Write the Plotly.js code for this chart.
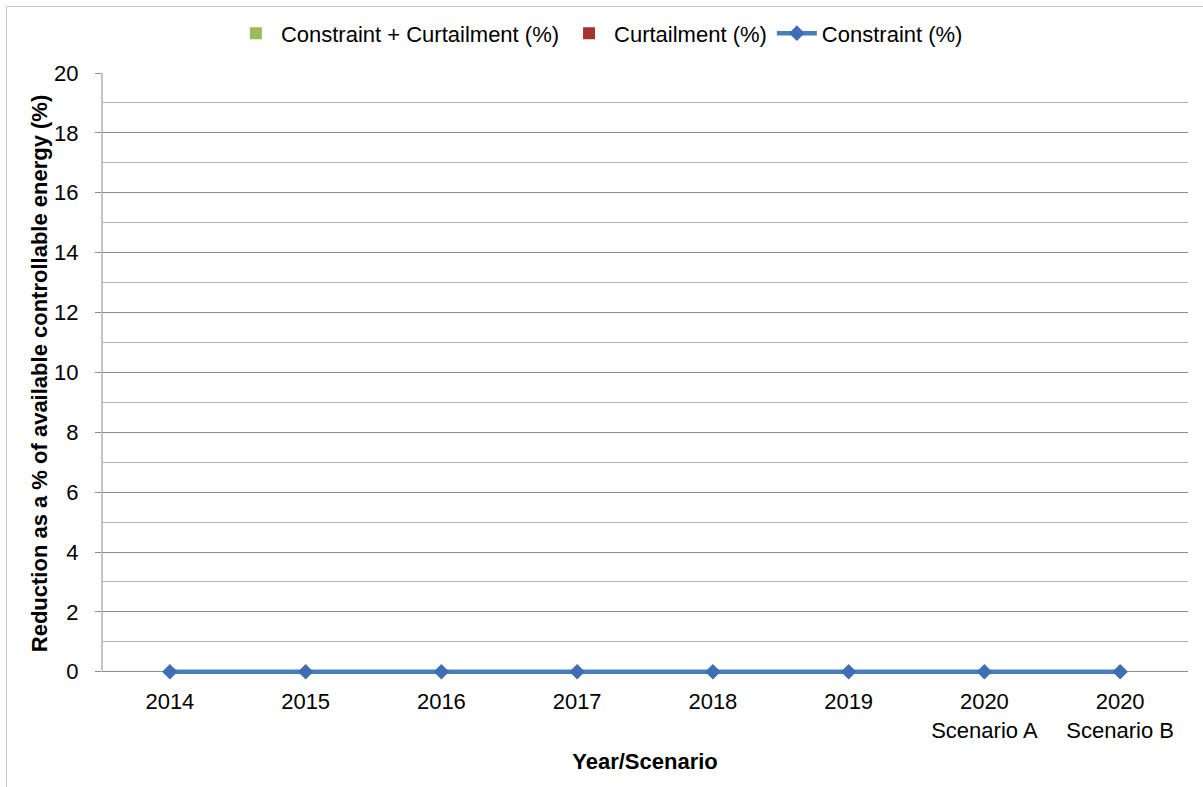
<!DOCTYPE html>
<html>
<head>
<meta charset="utf-8">
<script src="https://cdn.plot.ly/plotly-3.0.1.min.js"></script>
<style>
html,body{margin:0;padding:0;overflow:hidden;background:#fff;}
#frame{position:absolute;left:6px;top:6px;width:1220px;height:820px;border:1px solid #c8c8c8;pointer-events:none;}
#chart{position:absolute;left:0;top:0;width:1203px;height:787px;}
</style>
</head>
<body>
<div id="chart"></div>
<div id="frame"></div>
<script>
var categories = ["2014", "2015", "2016", "2017", "2018", "2019", "2020<br>Scenario A", "2020<br>Scenario B"];
var constraintPlusCurtailment = [0, 0, 0, 0, 0, 0, 0, 0];
var curtailment = [0, 0, 0, 0, 0, 0, 0, 0];
var constraint = [0, 0, 0, 0, 0, 0, 0, 0];
var yTickVals = [0, 2, 4, 6, 8, 10, 12, 14, 16, 18, 20];

var font = "Liberation Sans, Arial, sans-serif";
var fs = 22;

var traces = [
  {
    type: "bar", name: "Constraint + Curtailment (%)",
    x: categories, y: constraintPlusCurtailment,
    marker: {color: "#9BBB59", line: {color: "#4F6228", width: 0}}
  },
  {
    type: "bar", name: "Curtailment (%)",
    x: categories, y: curtailment,
    marker: {color: "#A33330", line: {color: "#632523", width: 0}}
  },
  {
    type: "scatter", mode: "lines+markers", name: "Constraint (%)",
    x: categories, y: constraint,
    line: {color: "#4A7EBB", width: 4.5},
    marker: {symbol: "diamond", size: 12, color: "#3E6EB4"},
    cliponaxis: false
  }
];

var layout = {
  width: 1203, height: 787,
  margin: {l: 102, r: 15, t: 73, b: 113},
  paper_bgcolor: "rgba(0,0,0,0)",
  plot_bgcolor: "#fff",
  font: {family: font, size: fs, color: "#000"},
  barmode: "group",
  showlegend: true,
  legend: {
    orientation: "h", x: 0.458, xanchor: "center", y: 1.066, yanchor: "middle",
    font: {family: font, size: fs, color: "#000"},
    itemwidth: 40, traceorder: "normal", tracegroupgap: 0
  },
  xaxis: {
    type: "category",
    showline: false, ticks: "", showgrid: false, zeroline: false,
    tickfont: {family: font, size: fs, color: "#000"},
    ticklabelstandoff: 12,
    title: {text: "<b>Year/Scenario</b>", font: {family: font, size: fs, color: "#000"}, standoff: 12}
  },
  yaxis: {
    range: [-0.075, 20], tickvals: yTickVals, ticktext: yTickVals.map(String),
    showline: false,
    ticks: "outside", ticklen: 6, tickcolor: "#8c8c8c",
    showgrid: true, gridcolor: "#8c8c8c", gridwidth: 1,
    zeroline: true, zerolinecolor: "#8c8c8c", zerolinewidth: 1,
    minor: {dtick: 1, showgrid: true, gridcolor: "#b4b4b4", gridwidth: 1, ticks: ""},
    tickfont: {family: font, size: fs, color: "#000"},
    ticklabelstandoff: 12,
    title: {text: "<b>Reduction as a % of available controllable energy (%)</b>", font: {family: font, size: fs, color: "#000"}, standoff: 0}
  },
  shapes: [
    {type: "line", xref: "paper", yref: "y", x0: 0, x1: 0, y0: 0, y1: 20,
     line: {color: "#8c8c8c", width: 1}, layer: "below"}
  ]
};

Plotly.newPlot("chart", traces, layout, {displayModeBar: false, staticPlot: true});
</script>
</body>
</html>
